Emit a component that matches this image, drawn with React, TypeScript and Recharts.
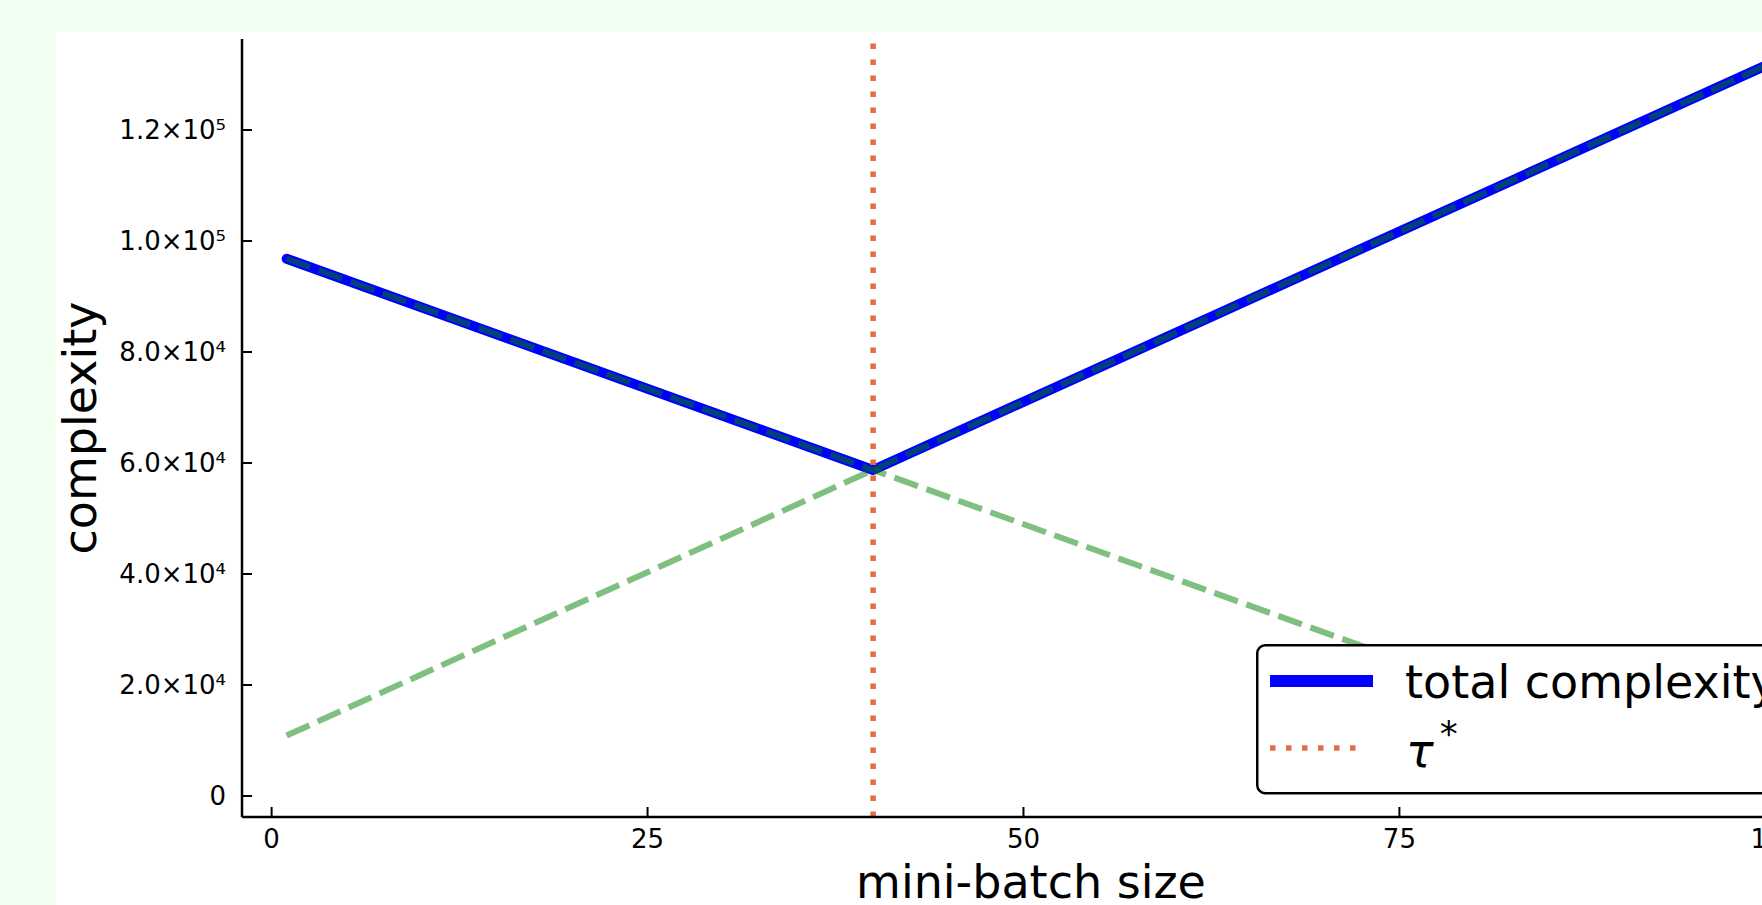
import React from 'react';
import { LineChart, Line, XAxis, YAxis, ReferenceLine, Legend, Label } from 'recharts';

// values
const batchSizes = [1, 40, 100];
const totalComplexity = [96800, 58740, 132400];
const increasingTerm = [10900, 58740, 132400];
const decreasingTerm = [96800, 58740, 200];
const tauStar = 40;

const xTicks = [0, 25, 50, 75, 100];
const xTickLabels = ['0', '25', '50', '75', '100'];
const yTicks = [0, 20000, 40000, 60000, 80000, 100000, 120000];
const yTickLabels = ['0', '2.0×10⁴', '4.0×10⁴', '6.0×10⁴', '8.0×10⁴', '1.0×10⁵', '1.2×10⁵'];

const xDomain: [number, number] = [-1.97, 102.97];
const yDomain: [number, number] = [-3784, 136396];

const toPoints = (ys: number[]) => batchSizes.map((x, i) => ({ x, y: ys[i] }));

const FONT = 'DejaVu Sans';
const BLUE = '#0000ff';
const ORANGE = '#e26f46';
const GREEN = '#008000';

// legend drawn like the Plots.jl box: only the two labelled series
const LegendBox = () => (
  <svg width={560} height={152} style={{ display: 'block', fontFamily: FONT }}>
    <rect x={1.25} y={1.25} width={555} height={148} rx={8} fill="#fff" stroke="#000" strokeWidth={2.5} />
    <line x1={14} x2={117} y1={37} y2={37} stroke={BLUE} strokeWidth={12} />
    <text x={149} y={54} fontSize={46} fill="#000">total complexity</text>
    <line x1={14} x2={106} y1={104} y2={104} stroke={ORANGE} strokeWidth={5.5} strokeDasharray="5.5 10.5" />
    <text x={150} y={123} fontSize={46} fill="#000">
      <tspan fontStyle="italic">τ</tspan>
      <tspan fontSize={36} dy={-21} dx={6}>*</tspan>
    </text>
  </svg>
);

export default function App() {
  return (
    <div
      style={{
        position: 'absolute',
        left: 0,
        top: 0,
        width: 1762,
        height: 905,
        overflow: 'hidden',
        background: '#f0fff0',
      }}
    >
      <div style={{ position: 'absolute', left: 56, top: 32, width: 1800, height: 900, background: '#fff' }} />
      <div style={{ position: 'absolute', left: 0, top: 0 }}>
        <LineChart
          width={1830}
          height={905}
          margin={{ top: 39, right: 10, bottom: 38, left: 142 }}
          style={{ fontFamily: FONT }}
        >
          <XAxis
            type="number"
            dataKey="x"
            domain={xDomain}
            allowDataOverflow
            ticks={xTicks}
            interval={0}
            tickFormatter={(v: number) => xTickLabels[xTicks.indexOf(v)]}
            height={50}
            tickSize={-10}
            tickMargin={23}
            axisLine={{ stroke: '#000', strokeWidth: 2.5 }}
            tickLine={{ stroke: '#000', strokeWidth: 2 }}
            tick={{ fill: '#000', fontSize: 26, fontFamily: FONT }}
          >
            <Label
              content={({ viewBox }: any) => (
                <text
                  x={viewBox.x + viewBox.width / 2}
                  y={898}
                  textAnchor="middle"
                  fontSize={46}
                  fontFamily={FONT}
                  fill="#000"
                >
                  mini-batch size
                </text>
              )}
            />
          </XAxis>
          <YAxis
            type="number"
            dataKey="y"
            domain={yDomain}
            allowDataOverflow
            ticks={yTicks}
            interval={0}
            tickFormatter={(v: number) => yTickLabels[yTicks.indexOf(v)]}
            width={100}
            tickSize={-10}
            tickMargin={26}
            axisLine={{ stroke: '#000', strokeWidth: 2.5 }}
            tickLine={{ stroke: '#000', strokeWidth: 2 }}
            tick={{ fill: '#000', fontSize: 26, fontFamily: FONT }}
          >
            <Label
              content={({ viewBox }: any) => {
                const cx = 96;
                const cy = viewBox.y + viewBox.height / 2;
                return (
                  <text
                    x={cx}
                    y={cy}
                    transform={`rotate(-90, ${cx}, ${cy})`}
                    textAnchor="middle"
                    fontSize={46}
                    fontFamily={FONT}
                    fill="#000"
                  >
                    complexity
                  </text>
                );
              }}
            />
          </YAxis>
          <Line
            data={toPoints(totalComplexity)}
            dataKey="y"
            type="linear"
            stroke={BLUE}
            strokeWidth={10}
            strokeLinecap="round"
            strokeLinejoin="round"
            dot={false}
            activeDot={false}
            legendType="none"
            isAnimationActive={false}
          />
          <Line
            data={toPoints(increasingTerm)}
            dataKey="y"
            type="linear"
            stroke={GREEN}
            strokeOpacity={0.5}
            strokeWidth={6}
            strokeDasharray="25 9"
            dot={false}
            activeDot={false}
            legendType="none"
            isAnimationActive={false}
          />
          <Line
            data={toPoints(decreasingTerm)}
            dataKey="y"
            type="linear"
            stroke={GREEN}
            strokeOpacity={0.5}
            strokeWidth={6}
            strokeDasharray="25 9"
            dot={false}
            activeDot={false}
            legendType="none"
            isAnimationActive={false}
          />
          <ReferenceLine x={tauStar} stroke={ORANGE} strokeWidth={5.5} strokeDasharray="5.5 10.5" />
          <Legend
            layout="vertical"
            align="center"
            verticalAlign="middle"
            content={() => <LegendBox />}
            wrapperStyle={{ left: 1256, top: 644, width: 560, height: 152 }}
          />
        </LineChart>
      </div>
    </div>
  );
}
